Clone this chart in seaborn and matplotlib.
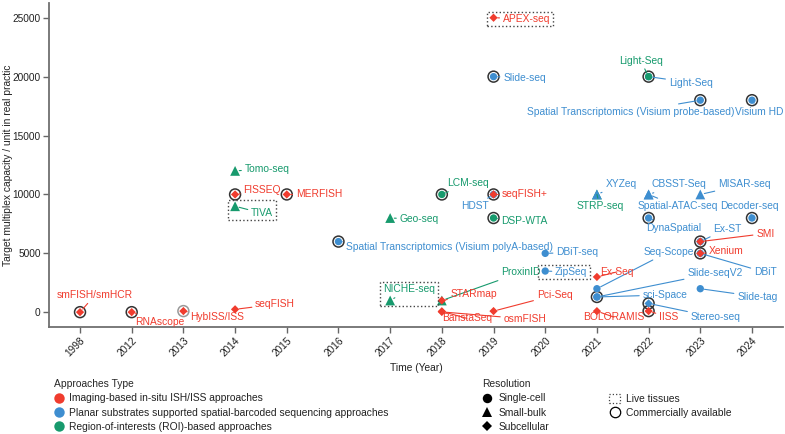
import matplotlib
matplotlib.use("Agg")
import matplotlib.pyplot as plt
import matplotlib.patches as mpatches
from matplotlib.lines import Line2D
import seaborn as sns
import pandas as pd

# categories
years = ["1998", "2012", "2013", "2014", "2015", "2016", "2017", "2018",
         "2019", "2020", "2021", "2022", "2023", "2024"]
approach_types = ["Imaging-based in-situ ISH/ISS approaches",
                  "Planar substrates supported spatial-barcoded sequencing approaches",
                  "Region-of-interests (ROI)-based approaches"]
resolutions = ["Single-cell", "Small-bulk", "Subcellular"]

# data (drawing order matters where points overlap)
methods = ["Spatial Transcriptomics (Visium polyA-based)", "Slide-seq", "HDST", "DBiT-seq", "ZipSeq",
           "Seq-Scope", "Slide-seqV2", "sci-Space", "CBSST-Seq", "Spatial-ATAC-seq",
           "DynaSpatial", "Stereo-seq", "Light-Seq", "Spatial Transcriptomics (Visium probe-based)",
           "MISAR-seq", "Ex-ST", "DBiT", "Slide-tag", "Visium HD", "Decoder-seq",
           "Tomo-seq", "TIVA", "Geo-seq", "NICHE-seq", "LCM-seq", "ProxinID", "DSP-WTA",
           "STRP-seq", "Light-Seq",
           "XYZeq",
           "smFISH/smHCR", "RNAscope", "HybISS/ISS", "FISSEQ", "seqFISH", "MERFISH", "STARmap",
           "BaristaSeq", "osmFISH", "seqFISH+", "APEX-seq", "Pci-Seq", "Ex-Seq", "BOLORAMIS",
           "IISS", "SMI", "Xenium"]
year = ["2016", "2019", "2019", "2020", "2020",
        "2021", "2021", "2021", "2022", "2022",
        "2022", "2022", "2022", "2023",
        "2023", "2023", "2023", "2023", "2024", "2024",
        "2014", "2014", "2017", "2017", "2018", "2018", "2019",
        "2021", "2022",
        "2021",
        "1998", "2012", "2013", "2014", "2014", "2015", "2018",
        "2018", "2018", "2019", "2019", "2019", "2021", "2021",
        "2022", "2023", "2023"]
capacity = [6000, 20000, 10000, 5000, 3500,
            2000, 1300, 1300, 10000, 10000,
            8000, 750, 20000, 18000,
            10000, 6000, 5000, 2000, 18000, 8000,
            12000, 9000, 8000, 1000, 10000, 1000, 8000,
            10000, 20000,
            10000,
            10, 10, 100, 10000, 249, 10000, 1000,
            79, 33, 10000, 25000, 99, 3000, 96,
            100, 6000, 5000]
approach = ["P"] * 20 + ["R"] * 9 + ["P"] + ["I"] * 17
resolution = ["Single-cell"] * 8 + ["Small-bulk", "Small-bulk", "Single-cell", "Subcellular",
              "Single-cell", "Single-cell", "Small-bulk"] + ["Single-cell"] * 5 + \
             ["Small-bulk"] * 4 + ["Single-cell", "Small-bulk", "Single-cell", "Small-bulk", "Single-cell"] + \
             ["Small-bulk"] + ["Subcellular"] * 17
commercial = [1, 1, 0, 0, 0,
              0, 1, 0, 0, 0,
              1, 1, 0, 1,
              0, 0, 0, 0, 1, 1,
              0, 0, 0, 0, 1, 0, 1,
              0, 1,
              0,
              1, 1, 1, 1, 0, 1, 0,
              0, 0, 1, 0, 0, 0, 0,
              1, 1, 1]
live = [0, 0, 0, 0, 1,
        0, 0, 0, 0, 0,
        0, 0, 0, 0,
        0, 0, 0, 0, 0, 0,
        0, 1, 0, 1, 0, 0, 0,
        0, 0,
        0,
        0, 0, 0, 0, 0, 0, 0,
        0, 0, 0, 1, 0, 0, 0,
        0, 0, 0]

# label offsets from the point, in pixels (x right, y up)
label_offsets = [(111, -5), (31, -1), (-19, -12), (32, 1), (26, -1),
                 (72, 37), (118, 24), (68, 2), (30, 10), (29, -12),
                 (25, -10), (67, -14), (42, -6), (-70, -12),
                 (44, 10), (27, 13), (65, -19), (57, -8), (7, -12), (-3, 12),
                 (32, 2), (27, -7), (29, -1), (19, 11), (26, 11), (79, 28), (31, -3),
                 (3, -12), (-8, 16),
                 (24, 10),
                 (15, 17), (28, -10), (34, -6), (27, 4), (40, 5), (32, 0), (32, 6),
                 (25, -7), (83, -7), (31, 0), (33, -1), (61, 16), (20, 5), (17, -6),
                 (20, -6), (65, 8), (26, 2)]

full_names = {"I": approach_types[0], "P": approach_types[1], "R": approach_types[2]}
palette = {approach_types[0]: "#F03C2E", approach_types[1]: "#3E8ED0", approach_types[2]: "#179A6D"}
markers = {"Single-cell": "o", "Small-bulk": "^", "Subcellular": "D"}
marker_sizes = {"Single-cell": 28, "Small-bulk": 50, "Subcellular": 18}

df = pd.DataFrame({"method": methods, "year": year, "capacity": capacity,
                   "approach": [full_names[a] for a in approach], "resolution": resolution,
                   "commercial": commercial, "live": live})
df["pos"] = df["year"].map({y: i for i, y in enumerate(years)})

sns.set_style("ticks")
plt.rcParams["font.family"] = ["Liberation Sans", "DejaVu Sans"]
txt = "#222222"

fig = plt.figure(figsize=(7.85, 4.34), dpi=100)
ax = fig.add_axes([49 / 785, 1 - 327 / 434, 734 / 785, 324 / 434])

# commercially available rings
com = df[df["commercial"] == 1]
ring_cols = ["#999999" if m == "HybISS/ISS" else "#333333" for m in com["method"]]
ax.scatter(com["pos"], com["capacity"], s=62, facecolors="none", edgecolors=ring_cols,
           linewidths=1.1, zorder=2)

sns.scatterplot(data=df, x="pos", y="capacity", hue="approach", style="resolution",
                size="resolution", sizes=marker_sizes, size_order=resolutions,
                palette=palette, markers=markers, hue_order=approach_types,
                style_order=resolutions, linewidth=0, legend=False, ax=ax, zorder=3)

anns = []
for i, row in df.iterrows():
    c = palette[row["approach"]]
    dx, dy = label_offsets[i]
    a = ax.annotate(row["method"], xy=(row["pos"], row["capacity"]), xytext=(dx, dy),
                    textcoords="offset pixels", ha="center", va="center", fontsize=7.4,
                    color=c, zorder=4,
                    arrowprops=dict(arrowstyle="-", color=c, lw=0.8, shrinkA=0, shrinkB=3))
    anns.append(a)

ax.set_xlim(-0.6, len(years) - 0.4)
ax.set_ylim(-1250, 26250)
ax.set_xticks(range(len(years)))
ax.set_xticklabels(years, rotation=45, ha="right", rotation_mode="anchor")
ax.set_yticks([0, 5000, 10000, 15000, 20000, 25000])
ax.tick_params(length=4, width=1, color="#666666", labelsize=7.3, labelcolor=txt, pad=2)
for s in ["top", "right"]:
    ax.spines[s].set_visible(False)
for s in ["left", "bottom"]:
    ax.spines[s].set_color("#707070")
    ax.spines[s].set_linewidth(1.3)
ax.set_xlabel("")
ax.set_ylabel("Target multiplex capacity / unit in real practic", fontsize=7.4, color=txt)
ax.yaxis.set_label_coords(-0.049, 0.5)
fig.text(416 / 785, 1 - 368 / 434, "Time (Year)", ha="center", va="center", fontsize=7.4, color=txt)

# legends
leg_top = 1 - 379 / 434
h1 = [Line2D([], [], ls="", marker="o", markersize=7.5, markerfacecolor=palette[a],
             markeredgewidth=0) for a in approach_types]
leg1 = fig.legend(h1, approach_types, title="Approaches Type", loc="upper left",
                  bbox_to_anchor=(54 / 785, leg_top), frameon=False, borderpad=0,
                  borderaxespad=0, fontsize=7.4, title_fontsize=7.4, handlelength=0.9,
                  handletextpad=0.6, labelspacing=0.42, labelcolor=txt)
leg1._legend_box.align = "left"

h2 = [Line2D([], [], ls="", marker=markers[r], markersize=6.8 if r != "Subcellular" else 5,
             markerfacecolor="black", markeredgewidth=0) for r in resolutions]
leg2 = fig.legend(h2, resolutions, title="Resolution", loc="upper left",
                  bbox_to_anchor=(482 / 785, leg_top), frameon=False, borderpad=0,
                  borderaxespad=0, fontsize=7.4, title_fontsize=7.4, handlelength=0.9,
                  handletextpad=0.7, labelspacing=0.42, labelcolor=txt)
leg2._legend_box.align = "left"

h3 = [mpatches.Patch(facecolor="none", edgecolor="#444444", linestyle=":", linewidth=0.9),
      Line2D([], [], ls="", marker="o", markersize=7.5, markerfacecolor="none",
             markeredgecolor="black", markeredgewidth=0.9)]
leg3 = fig.legend(h3, ["Live tissues", "Commercially available"], title=" ", loc="upper left",
                  bbox_to_anchor=(609 / 785, leg_top), frameon=False, borderpad=0,
                  borderaxespad=0, fontsize=7.4, title_fontsize=7.4, handlelength=1.1,
                  handleheight=1.0, handletextpad=0.6, labelspacing=0.45, labelcolor=txt)

# live-tissue dashed boxes around point and label
fig.canvas.draw()
renderer = fig.canvas.get_renderer()
inv = fig.transFigure.inverted()
for a, (_, row) in zip(anns, df.iterrows()):
    if not row["live"]:
        continue
    tb = a.get_window_extent(renderer)
    px, py = ax.transData.transform((row["pos"], row["capacity"]))
    x0 = min(tb.x0, px - 4) - 3
    x1 = max(tb.x1, px + 4) + 3
    y0 = min(tb.y0, py - 4) - 2
    y1 = max(tb.y1, py + 4) + 2
    (fx0, fy0), (fx1, fy1) = inv.transform([(x0, y0), (x1, y1)])
    fig.add_artist(mpatches.Rectangle((fx0, fy0), fx1 - fx0, fy1 - fy0, fill=False,
                                      edgecolor="#444444", linestyle=":", linewidth=1.0,
                                      transform=fig.transFigure))

fig.savefig("out.png", dpi=100)
